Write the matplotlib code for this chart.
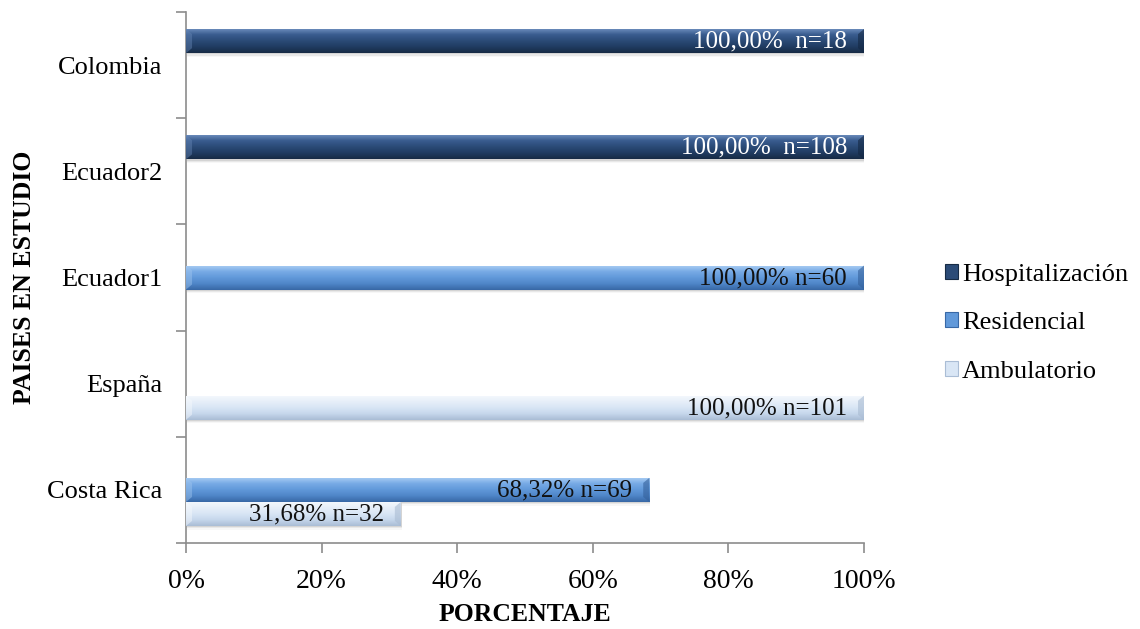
import numpy as np
import matplotlib
matplotlib.use('Agg')
import matplotlib.pyplot as plt
import matplotlib.patches as mpatches
from matplotlib.colors import LinearSegmentedColormap

plt.rcParams['font.family'] = ['Liberation Serif', 'DejaVu Serif']

# countries, bottom to top
paises = ['Costa Rica', 'España', 'Ecuador1', 'Ecuador2', 'Colombia']

# percentage of patients by type of treatment (0 = not present)
ambulatorio = [31.68, 100.00, 0, 0, 0]
residencial = [68.32, 0, 100.00, 0, 0]
hospitalizacion = [0, 0, 0, 100.00, 100.00]

# sample sizes shown next to each percentage
n_ambulatorio = [32, 101, 0, 0, 0]
n_residencial = [69, 0, 60, 0, 0]
n_hospitalizacion = [0, 0, 0, 108, 18]

x_ticks = [0, 20, 40, 60, 80, 100]

# series: name, values, n, bottom -> top gradient, bevel ends, label colour, separator
series = [
    ('Ambulatorio', ambulatorio, n_ambulatorio,
     ['#aabdd5', '#c6d7ec', '#d9e6f5', '#e7eff9', '#f5f9fd'],
     '#f7fafd', '#a9bbd2', '#111111', ' '),
    ('Residencial', residencial, n_residencial,
     ['#3868a6', '#4f86c8', '#6199da', '#78abe6', '#abcef3'],
     '#a0c6ef', '#34609a', '#111111', ' '),
    ('Hospitalización', hospitalizacion, n_hospitalizacion,
     ['#172b45', '#203c62', '#2b4b77', '#3a5d90', '#7191c0'],
     '#6585b4', '#142843', 'white', '  '),
]

bar_h = 0.226
offsets = [-bar_h, 0.0, bar_h]


def fmt_pct(v):
    return f'{v:.2f}'.replace('.', ',') + '%'


fig = plt.figure(figsize=(11.4, 6.29), dpi=100)
ax = fig.add_axes([0.1632, 0.1367, 0.5947, 0.8442])

y = np.arange(len(paises))
px_x = 100 / 678.0    # data units per pixel along x
px_y = 1 / 106.2      # data units per pixel along y

for (name, vals, ns, stops, light, dark, tcol, sep), off in zip(series, offsets):
    cmap = LinearSegmentedColormap.from_list(name, stops)
    grad = np.linspace(0, 1, 64).reshape(-1, 1)
    bars = ax.barh(y + off, vals, height=bar_h, color=stops[2], zorder=3,
                   linewidth=0)
    for bar, v, n in zip(bars, vals, ns):
        if v <= 0:
            continue
        x0, y0 = bar.get_x(), bar.get_y()
        w, h = bar.get_width(), bar.get_height()
        # soft shadow under the bar
        for k, a in enumerate([0.18, 0.12, 0.06]):
            ax.add_patch(mpatches.Rectangle(
                (x0 + px_x, y0 - (k + 1) * 1.2 * px_y), w, h,
                facecolor='#7f7f7f', alpha=a, linewidth=0, zorder=2))
        im = ax.imshow(grad, cmap=cmap, origin='lower', aspect='auto',
                       extent=[x0, x0 + w, y0, y0 + h], zorder=3.1,
                       interpolation='bilinear')
        im.set_clip_path(bar)
        # bevelled ends: light wedge on the left, dark wedge on the right
        d = 6 * px_x
        e = 5 * px_y
        ax.add_patch(mpatches.Polygon(
            [(x0, y0), (x0 + d, y0 + e), (x0 + d, y0 + h - e), (x0, y0 + h)],
            closed=True, facecolor=light, alpha=0.45, linewidth=0, zorder=3.2))
        ax.add_patch(mpatches.Polygon(
            [(x0 + w, y0), (x0 + w - d, y0 + e), (x0 + w - d, y0 + h - e),
             (x0 + w, y0 + h)],
            closed=True, facecolor=dark, alpha=0.6, linewidth=0, zorder=3.2))
        ax.text(x0 + w - 17 * px_x, y0 + h / 2 - 0.5 * px_y,
                fmt_pct(v) + sep + 'n=' + str(n),
                ha='right', va='center', fontsize=18, color=tcol, zorder=4)

ax.set_xlim(0, 100)
ax.set_ylim(-0.5, len(paises) - 0.5)

# axes: grey spines on left and bottom only
for s in ['top', 'right']:
    ax.spines[s].set_visible(False)
for s in ['left', 'bottom']:
    ax.spines[s].set_color('#8c8c8c')
    ax.spines[s].set_linewidth(1.2)

ax.set_xticks(x_ticks)
ax.set_xticklabels([f'{t}%' for t in x_ticks], fontsize=20)
ax.tick_params(axis='x', direction='out', length=7, width=1.2,
               color='#8c8c8c', pad=12)

ax.set_yticks(y)
ax.set_yticklabels(paises, fontsize=19)
ax.set_yticks(np.arange(len(paises) + 1) - 0.5, minor=True)
ax.tick_params(axis='y', which='major', length=0, pad=17)
ax.tick_params(axis='y', which='minor', direction='out', length=7,
               width=1.2, color='#8c8c8c')

ax.set_xlabel('PORCENTAJE', fontsize=18.5, fontweight='bold', labelpad=6)
ax.set_ylabel('PAISES EN ESTUDIO', fontsize=18.5, fontweight='bold',
              labelpad=8)

# legend, top series first
handles = [mpatches.Patch(facecolor=s[3][2], edgecolor=s[3][0], linewidth=0.8,
                          label=s[0]) for s in reversed(series)]
fig.legend(handles=handles, loc='center left', bbox_to_anchor=(0.817, 0.486),
           frameon=False, fontsize=19, handlelength=0.5, handleheight=0.5,
           handletextpad=0.15, labelspacing=1.0, borderpad=0)

fig.savefig('out.png', dpi=100)
